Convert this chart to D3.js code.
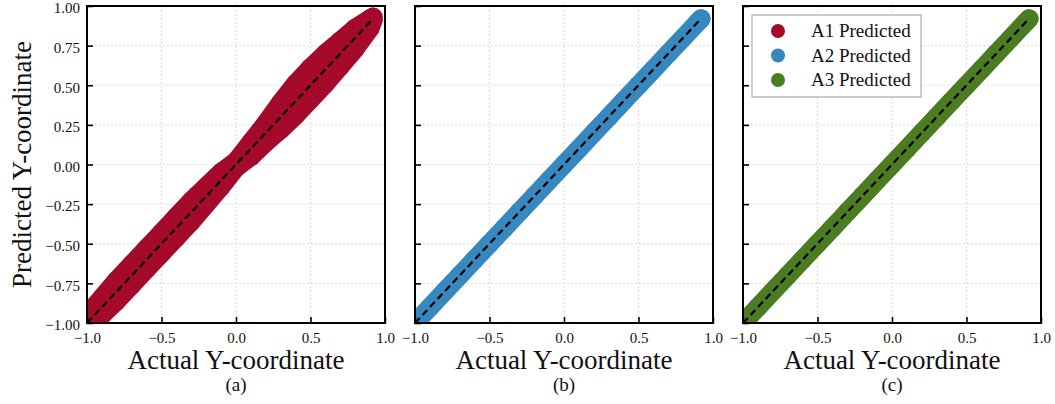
<!DOCTYPE html>
<html>
<head>
<meta charset="utf-8">
<script src="https://cdn.jsdelivr.net/npm/d3@7"></script>
<style>
  body { margin: 0; background: #fff; }
  text { font-family: "Liberation Serif", "DejaVu Serif", serif; fill: #111; }
</style>
</head>
<body>
<script>
// values
const actual   = [-1.0, -0.9, -0.8, -0.7, -0.6, -0.5, -0.4, -0.3, -0.2, -0.1, 0.0, 0.1, 0.2, 0.3, 0.4, 0.5, 0.6, 0.7, 0.8, 0.9, 0.92];
const a1Upper  = [-0.95, -0.84, -0.73, -0.63, -0.53, -0.43, -0.33, -0.23, -0.14, -0.05, 0.02, 0.14, 0.26, 0.39, 0.51, 0.61, 0.70, 0.78, 0.86, 0.92, 0.93];
const a1Lower  = [-1.04, -0.95, -0.86, -0.76, -0.66, -0.56, -0.46, -0.36, -0.25, -0.14, -0.02, 0.05, 0.14, 0.22, 0.31, 0.41, 0.51, 0.62, 0.73, 0.86, 0.91];
const a2Pred   = [-1.0, -0.9, -0.8, -0.7, -0.6, -0.5, -0.4, -0.3, -0.2, -0.1, 0.0, 0.1, 0.2, 0.3, 0.4, 0.5, 0.6, 0.7, 0.8, 0.9, 0.92];
const a3Pred   = [-1.0, -0.9, -0.8, -0.7, -0.6, -0.5, -0.4, -0.3, -0.2, -0.1, 0.0, 0.1, 0.2, 0.3, 0.4, 0.5, 0.6, 0.7, 0.8, 0.9, 0.92];
const xTicks = [-1.0, -0.5, 0.0, 0.5, 1.0];
const yTicks = [-1.0, -0.75, -0.5, -0.25, 0.0, 0.25, 0.5, 0.75, 1.0];
const panelNames = ["(a)", "(b)", "(c)"];
const legendNames = ["A1 Predicted", "A2 Predicted", "A3 Predicted"];
const colors = ["#a50a2b", "#3688bf", "#4b7c22"];

const W = 1055, H = 404;
const pTop = 6, pBottom = 323, pw = 298, gap = 30, left0 = 87;

const svg = d3.select("body").append("svg")
    .attr("width", W)
    .attr("height", H)

const y = d3.scaleLinear().domain([-1, 1]).range([pBottom, pTop])

function draw_panel(i){
    let left = left0 + i*(pw+gap)
    let x = d3.scaleLinear().domain([-1, 1]).range([left, left+pw])
    let g = svg.append("g")

    g.append("clipPath").attr("id", "clip"+i)
        .append("rect").attr("x", left).attr("y", pTop).attr("width", pw).attr("height", pBottom-pTop)

    // grid
    g.selectAll(".gx").data(xTicks).enter().append("line")
        .attr("x1", d => x(d)).attr("x2", d => x(d))
        .attr("y1", pTop).attr("y2", pBottom)
        .attr("stroke", "#d4d4d4").attr("stroke-width", 0.8).attr("stroke-dasharray", "2,2")
    g.selectAll(".gy").data(yTicks).enter().append("line")
        .attr("x1", left).attr("x2", left+pw)
        .attr("y1", d => y(d)).attr("y2", d => y(d))
        .attr("stroke", "#d4d4d4").attr("stroke-width", 0.8).attr("stroke-dasharray", "2,2")

    let marks = g.append("g").attr("clip-path", "url(#clip"+i+")")
    let col = colors[i]

    if (i == 0){
        let band = actual.map((a, k) => ({a: a, lo: a1Lower[k], hi: a1Upper[k]}))
        marks.append("path")
            .datum(band)
            .attr("d", d3.area().x(d => x(d.a)).y0(d => y(d.lo)).y1(d => y(d.hi)))
            .attr("fill", col).attr("stroke", col)
            .attr("stroke-width", 19).attr("stroke-linejoin", "round")
        marks.selectAll(".hi").data(band).enter().append("circle")
            .attr("cx", d => x(d.a)).attr("cy", d => y(d.hi)).attr("r", 9.5).attr("fill", col)
        marks.selectAll(".lo").data(band).enter().append("circle")
            .attr("cx", d => x(d.a)).attr("cy", d => y(d.lo)).attr("r", 9.5).attr("fill", col)
    } else {
        let pred = i == 1 ? a2Pred : a3Pred
        let pts = actual.map((a, k) => ({a: a, p: pred[k]}))
        marks.append("path")
            .datum(pts)
            .attr("d", d3.line().x(d => x(d.a)).y(d => y(d.p)))
            .attr("fill", "none").attr("stroke", col)
            .attr("stroke-width", 19).attr("stroke-linecap", "round")
        marks.selectAll("circle").data(pts).enter().append("circle")
            .attr("cx", d => x(d.a)).attr("cy", d => y(d.p)).attr("r", 9.5).attr("fill", col)
    }

    // ideal line
    let lo = d3.min(actual), hi = d3.max(actual)
    marks.append("line")
        .attr("x1", x(lo)).attr("y1", y(lo))
        .attr("x2", x(hi)).attr("y2", y(hi))
        .attr("stroke", "#000").attr("stroke-width", 2.2).attr("stroke-dasharray", "7,4")

    // axes, ticks inward
    let ax = g.append("g").attr("transform", "translate(0," + pBottom + ")")
        .call(d3.axisBottom(x).tickValues(xTicks).tickSize(-6).tickPadding(9).tickFormat(d3.format(".1f")))
    let ay = g.append("g").attr("transform", "translate(" + left + ",0)")
        .call(d3.axisLeft(y).tickValues(yTicks).tickSize(-6).tickPadding(7)
            .tickFormat(i == 0 ? d3.format(".2f") : ""))
    for (let a of [ax, ay]){
        a.select(".domain").remove()
        a.selectAll(".tick line").attr("stroke", "#000").attr("stroke-width", 1.6)
        a.selectAll(".tick text").style("font-size", "15px")
            .style("font-family", "\"Liberation Serif\", serif").attr("fill", "#222")
    }
    ay.selectAll(".tick text").attr("dy", "0.45em")

    // frame
    g.append("rect")
        .attr("x", left).attr("y", pTop).attr("width", pw).attr("height", pBottom-pTop)
        .attr("fill", "none").attr("stroke", "#000").attr("stroke-width", 2)

    g.append("text")
        .attr("x", left + pw/2).attr("y", 369)
        .attr("text-anchor", "middle")
        .style("font-size", "27px")
        .text("Actual Y-coordinate")

    g.append("text")
        .attr("x", left + pw/2).attr("y", 391)
        .attr("text-anchor", "middle")
        .style("font-size", "19px")
        .text(panelNames[i])
}

for (let i = 0; i < 3; i++) draw_panel(i)

svg.append("text")
    .attr("transform", "translate(31," + (pTop+pBottom)/2 + ") rotate(-90)")
    .attr("text-anchor", "middle")
    .style("font-size", "27px")
    .text("Predicted Y-coordinate")

// legend in panel (c)
let lg = svg.append("g")
lg.append("rect")
    .attr("x", 752).attr("y", 15).attr("width", 169).attr("height", 82)
    .attr("fill", "#fff").attr("stroke", "#999").attr("stroke-width", 1)
lg.selectAll("circle").data(legendNames).enter().append("circle")
    .attr("cx", 778).attr("cy", (d, k) => 31 + k*24.5).attr("r", 7)
    .attr("fill", (d, k) => colors[k])
lg.selectAll("text").data(legendNames).enter().append("text")
    .attr("x", 811).attr("y", (d, k) => 37 + k*24.5)
    .style("font-size", "19px")
    .text(d => d)
</script>
</body>
</html>
